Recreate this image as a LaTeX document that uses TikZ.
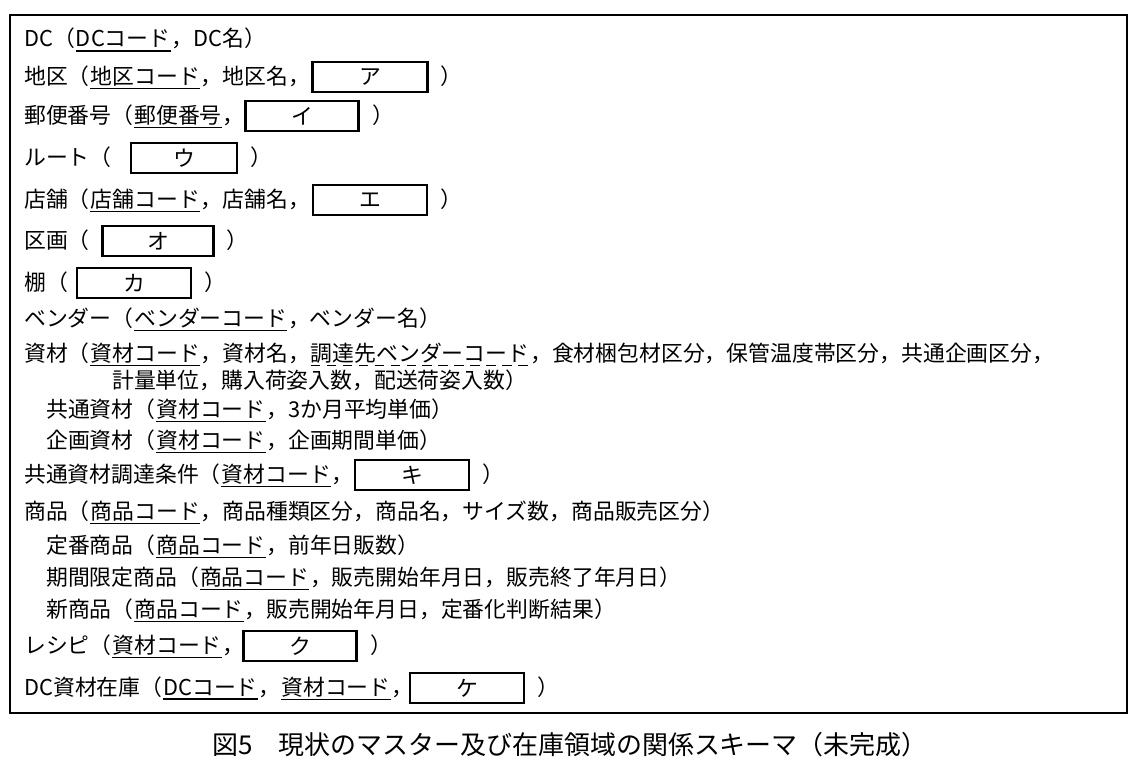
\documentclass[tikz,border=0pt]{standalone}
\usepackage{fontspec}
\setmainfont{Noto Sans CJK JP}
\usetikzlibrary{positioning}
\newcommand{\pk}[1]{\tikz[baseline=(t.base)]{\node[inner sep=0pt](t){#1};\draw[line width=1pt]([yshift=-2pt]t.south west)--([yshift=-2pt]t.south east);}}
\newcommand{\fk}[1]{\tikz[baseline=(t.base)]{\node[inner sep=0pt](t){#1};\draw[dash pattern=on 7pt off 5pt,line width=1pt]([yshift=-2pt]t.south west)--([yshift=-2pt]t.south east);}}
\begin{document}
\begin{tikzpicture}[x=0.0264cm,y=-0.0264cm]
\tikzstyle{every node}+=[inner sep=0pt]
\tikzstyle{row}=[anchor=base west,font=\fontsize{16.4pt}{18pt}\selectfont]
\tikzstyle{blank}=[draw,line width=1.6pt,minimum height=30*0.0264cm,font=\fontsize{16.4pt}{18pt}\selectfont]
\useasboundingbox (0,0) rectangle (1139,772);
\draw [line width=1pt] (10,15) rectangle (1127,713);
% relations
\node [row] (dc) at (24,47) {DC（\pk{DCコード}，DC名）};
\node [row] (area) at (24,84) {地区（\pk{地区コード}，地区名，};
\node [blank,minimum width=115*0.0264cm] (a) at (370,77) {ア};
\node [row] (areaend) at (440,84) {）};
\node [row] (zip) at (24,123) {郵便番号（\pk{郵便番号}，};
\node [blank,minimum width=113*0.0264cm] (i) at (302,116) {イ};
\node [row] (zipend) at (372,123) {）};
\node [row] (route) at (24,165) {ルート（};
\node [blank,minimum width=106*0.0264cm] (u) at (184,158) {ウ};
\node [row] (routeend) at (250,165) {）};
\node [row] (shop) at (24,207) {店舗（\pk{店舗コード}，店舗名，};
\node [blank,minimum width=114*0.0264cm] (e) at (370,200) {エ};
\node [row] (shopend) at (440,207) {）};
\node [row] (sect) at (24,248) {区画（};
\node [blank,minimum width=111*0.0264cm] (o) at (158,241) {オ};
\node [row] (sectend) at (226,248) {）};
\node [row] (shelf) at (24,290) {棚（};
\node [blank,minimum width=114*0.0264cm] (ka) at (134,283) {カ};
\node [row] (shelfend) at (204,290) {）};
\node [row] (vendor) at (24,326) {ベンダー（\pk{ベンダーコード}，ベンダー名）};
\node [row] (mat) at (24,361) {資材（\pk{資材コード}，資材名，\fk{調達先ベンダーコード}，食材梱包材区分，保管温度帯区分，共通企画区分，};
\node [row] (mat2) at (112,388) {計量単位，購入荷姿入数，配送荷姿入数）};
\node [row] (cmat) at (46,417) {共通資材（\pk{資材コード}，3か月平均単価）};
\node [row] (pmat) at (46,448) {企画資材（\pk{資材コード}，企画期間単価）};
\node [row] (cond) at (24,482) {共通資材調達条件（\pk{資材コード}，};
\node [blank,minimum width=114*0.0264cm] (ki) at (412,475) {キ};
\node [row] (condend) at (482,482) {）};
\node [row] (item) at (24,519) {商品（\pk{商品コード}，商品種類区分，商品名，サイズ数，商品販売区分）};
\node [row] (std) at (46,553) {定番商品（\pk{商品コード}，前年日販数）};
\node [row] (ltd) at (46,585) {期間限定商品（\pk{商品コード}，販売開始年月日，販売終了年月日）};
\node [row] (new) at (46,617) {新商品（\pk{商品コード}，販売開始年月日，定番化判断結果）};
\node [row] (recipe) at (24,653) {レシピ（\pk{資材コード}，};
\node [blank,minimum width=113*0.0264cm] (ku) at (300,646) {ク};
\node [row] (recipeend) at (370,653) {）};
\node [row] (stock) at (24,695) {DC資材在庫（\pk{DCコード}，\pk{資材コード}，};
\node [blank,minimum width=114*0.0264cm] (ke) at (467,688) {ケ};
\node [row] (stockend) at (537,695) {）};
% caption
\node [font=\fontsize{19.5pt}{21pt}\selectfont] (cap) at (570,745) {図5\quad 現状のマスター及び在庫領域の関係スキーマ（未完成）};
\end{tikzpicture}
\end{document}
